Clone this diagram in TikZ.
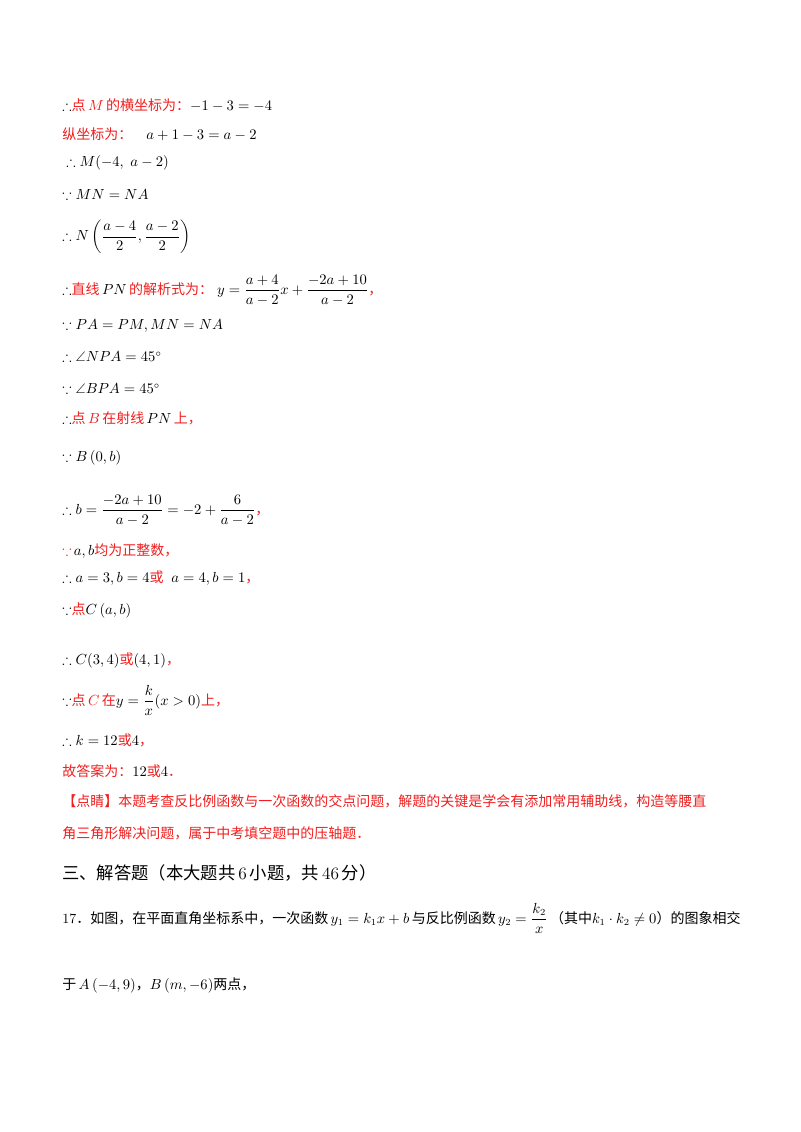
\documentclass[tikz,border=0pt]{standalone}
\usepackage{amsmath,amssymb}
\usepackage{fontspec}
\newfontfamily\cjk{Noto Sans CJK SC}
\definecolor{rd}{RGB}{240,30,30}
\newcommand{\R}[1]{\textcolor{rd}{\cjk #1}}
\newcommand{\K}[1]{{\cjk #1}}
\begin{document}
\begin{tikzpicture}[x=0.75pt,y=-0.75pt,
  ln/.style={anchor=west,inner sep=0pt,font=\fontsize{10.5}{12}\selectfont}]
\useasboundingbox (0,0) rectangle (800,1132);
\node[ln] (l1) at (62,105) {$\therefore$\R{点}\textcolor{rd}{$\,M\,$}\R{的横坐标为：}$-1-3=-4$};
\node[ln] (l2) at (62,134) {\R{纵坐标为：}\quad $a+1-3=a-2$};
\node[ln] (l3) at (66,163) {$\therefore M(-4,\;a-2)$};
\node[ln] (l4) at (62,195) {$\because MN=NA$};
\node[ln] (l5) at (62,237) {$\therefore N\left(\dfrac{a-4}{2},\dfrac{a-2}{2}\right)$};
\node[ln] (l6) at (62,290) {$\therefore$\R{直线}$\,PN\,$\R{的解析式为：}\;$y=\dfrac{a+4}{a-2}x+\dfrac{-2a+10}{a-2}$\R{，}};
\node[ln] (l7) at (62,326) {$\because PA=PM,MN=NA$};
\node[ln] (l8) at (62,357) {$\therefore \angle NPA=45^{\circ}$};
\node[ln] (l9) at (62,389) {$\because \angle BPA=45^{\circ}$};
\node[ln] (l10) at (62,418) {$\therefore$\R{点}\textcolor{rd}{$\,B\,$}\R{在射线}$\,PN\,$\R{上，}};
\node[ln] (l11) at (62,458) {$\because B\left(0,b\right)$};
\node[ln] (l12) at (62,510) {$\therefore b=\dfrac{-2a+10}{a-2}=-2+\dfrac{6}{a-2}$\R{，}};
\node[ln] (l13) at (62,551) {\textcolor{rd}{$\because$}\,$a,b$\R{均为正整数，}};
\node[ln] (l14) at (62,578) {$\therefore a=3,b=4$\R{或}\;\;$a=4,b=1$\R{，}};
\node[ln] (l15) at (62,610) {$\because$\R{点}$C\left(a,b\right)$};
\node[ln] (l16) at (62,660) {$\therefore C(3,4)$\R{或}$(4,1)$\R{，}};
\node[ln] (l17) at (62,700) {$\because$\R{点}\textcolor{rd}{$\,C\,$}\R{在}$y=\dfrac{k}{x}(x>0)$\R{上，}};
\node[ln] (l18) at (62,740) {$\therefore k=12$\R{或}$4$\R{，}};
\node[ln] (l19) at (62,771) {\R{故答案为：}$12$\R{或}$4$\R{．}};
\node[ln] (l20) at (62,801) {\R{【点睛】本题考查反比例函数与一次函数的交点问题，解题的关键是学会有添加常用辅助线，构造等腰直}};
\node[ln] (l21) at (62,833) {\R{角三角形解决问题，属于中考填空题中的压轴题．}};
\node[ln,font=\fontsize{13}{15}\selectfont] (l22) at (62,873) {\K{三、解答题（本大题共}\,6\,\K{小题，共}\,46\,\K{分）}};
\node[ln] (l23) at (62,918) {17\K{．如图，在平面直角坐标系中，一次函数}$\,y_1=k_1x+b\,$\K{与反比例函数}$\,y_2=\dfrac{k_2}{x}\,$\K{（其中}$k_1\cdot k_2\neq0$\K{）的图象相交}};
\node[ln] (l24) at (62,985) {\K{于}$\,A\left(-4,9\right)$\K{，}$B\left(m,-6\right)$\K{两点，}};
\end{tikzpicture}
\end{document}
